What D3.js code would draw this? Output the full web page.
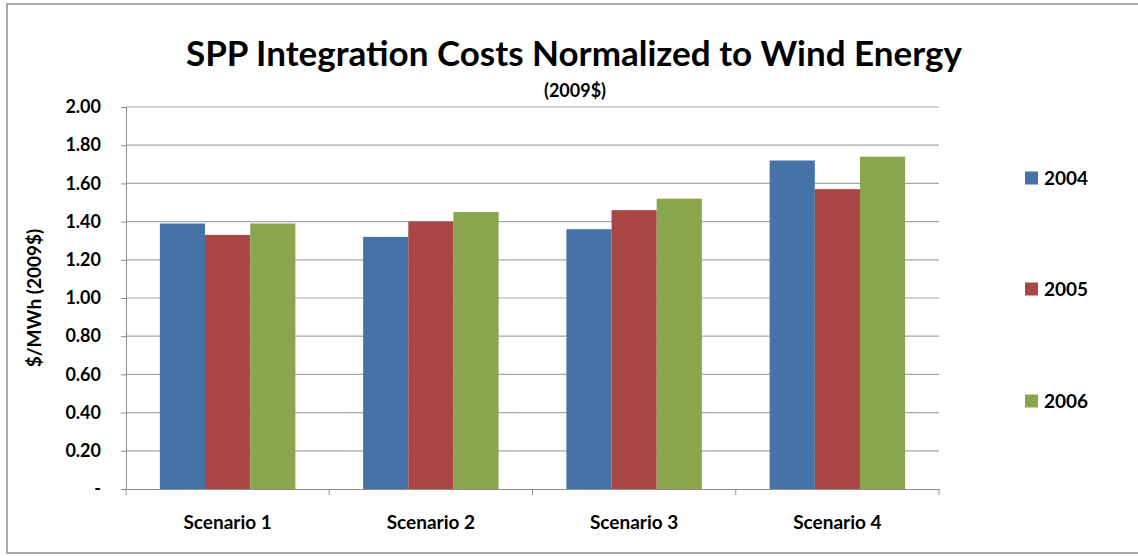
<!DOCTYPE html>
<html>
<head>
<meta charset="utf-8">
<script src="https://cdn.jsdelivr.net/npm/d3@7"></script>
<style>
  body { margin: 0; background: #fff; }
  text { font-family: Lato, "Open Sans", sans-serif; font-weight: bold; fill: #000; }
</style>
</head>
<body>
<svg id="chart"></svg>
<script>
const scenarios = ["Scenario 1", "Scenario 2", "Scenario 3", "Scenario 4"];
const years = ["2004", "2005", "2006"];
const v2004 = [1.39, 1.32, 1.36, 1.72];
const v2005 = [1.33, 1.40, 1.46, 1.57];
const v2006 = [1.39, 1.45, 1.52, 1.74];
const yTicks = [0, 0.2, 0.4, 0.6, 0.8, 1.0, 1.2, 1.4, 1.6, 1.8, 2.0];
const colors = ["#4572a7", "#aa4643", "#89a54e"];

const series = [v2004, v2005, v2006];
const data = scenarios.map((s, i) => ({ s, vals: years.map((y, j) => ({ y, v: series[j][i] })) }));

const W = 1138, H = 556;
const margin = { top: 107, right: 199, bottom: 67, left: 126 };
const width = W - margin.left - margin.right;
const height = H - margin.top - margin.bottom;

const root = d3.select("#chart").attr("width", W).attr("height", H);

// outer frame
root.append("rect")
  .attr("x", 7).attr("y", 4)
  .attr("width", 1140).attr("height", 549)
  .attr("fill", "none").attr("stroke", "#8e8e8e").attr("stroke-width", 1.5);

const svg = root.append("g")
  .attr("transform", "translate(" + margin.left + "," + margin.top + ")");

const x = d3.scaleBand().domain(scenarios).range([0, width]);
const x1 = d3.scaleBand().domain(years).range([0, x.bandwidth()]).paddingOuter(0.75).paddingInner(0);
const y = d3.scaleLinear().domain([0, 2]).range([height, 0]);

// gridlines
svg.append("g")
  .selectAll("line")
  .data(yTicks.slice(1))
  .enter().append("line")
  .attr("x1", 0).attr("x2", width)
  .attr("y1", d => y(d)).attr("y2", d => y(d))
  .attr("stroke", "#a6a6a6").attr("stroke-width", 1.2);

// bars
svg.selectAll(".grp")
  .data(data)
  .enter().append("g")
  .attr("transform", d => "translate(" + x(d.s) + ",0)")
  .selectAll("rect")
  .data(d => d.vals)
  .enter().append("rect")
  .attr("x", d => x1(d.y))
  .attr("width", x1.bandwidth())
  .attr("y", d => y(d.v))
  .attr("height", d => height - y(d.v))
  .attr("fill", (d, i) => colors[i]);

// y axis
const yAxis = svg.append("g")
  .call(d3.axisLeft(y).tickValues(yTicks).tickSize(5).tickPadding(20)
    .tickFormat(d => d === 0 ? "-" : d3.format(".2f")(d)));
yAxis.select(".domain").attr("stroke", "#8e8e8e");
yAxis.selectAll(".tick line").attr("stroke", "#8e8e8e");
yAxis.selectAll("text").style("font-size", "18px");

// x axis
const xAxis = svg.append("g")
  .attr("transform", "translate(0," + height + ")")
  .call(d3.axisBottom(x).tickSize(0).tickPadding(27));
xAxis.select(".domain").attr("stroke", "#8e8e8e");
xAxis.selectAll("text").style("font-size", "19px");
svg.append("g")
  .selectAll("line")
  .data(scenarios.map(s => x(s)).concat([width]))
  .enter().append("line")
  .attr("x1", d => d).attr("x2", d => d)
  .attr("y1", height).attr("y2", height + 6)
  .attr("stroke", "#8e8e8e");

// title
root.append("text")
  .attr("x", 574).attr("y", 66)
  .attr("text-anchor", "middle")
  .style("font-size", "35px")
  .text("SPP Integration Costs Normalized to Wind Energy");
root.append("text")
  .attr("x", 575).attr("y", 97)
  .attr("text-anchor", "middle")
  .style("font-size", "18px")
  .text("(2009$)");

// y title
root.append("text")
  .attr("transform", "translate(41," + (margin.top + height / 2) + ") rotate(-90)")
  .attr("text-anchor", "middle")
  .style("font-size", "19px")
  .text("$/MWh (2009$)");

// legend
const legY = [178, 289, 401];
const leg = root.append("g").selectAll("g")
  .data(years)
  .enter().append("g")
  .attr("transform", (d, i) => "translate(1025," + legY[i] + ")");
leg.append("rect")
  .attr("x", 0).attr("y", -6.5)
  .attr("width", 13).attr("height", 13)
  .attr("fill", (d, i) => colors[i]);
leg.append("text")
  .attr("x", 19).attr("y", 7)
  .style("font-size", "19px")
  .text(d => d);
</script>
</body>
</html>
